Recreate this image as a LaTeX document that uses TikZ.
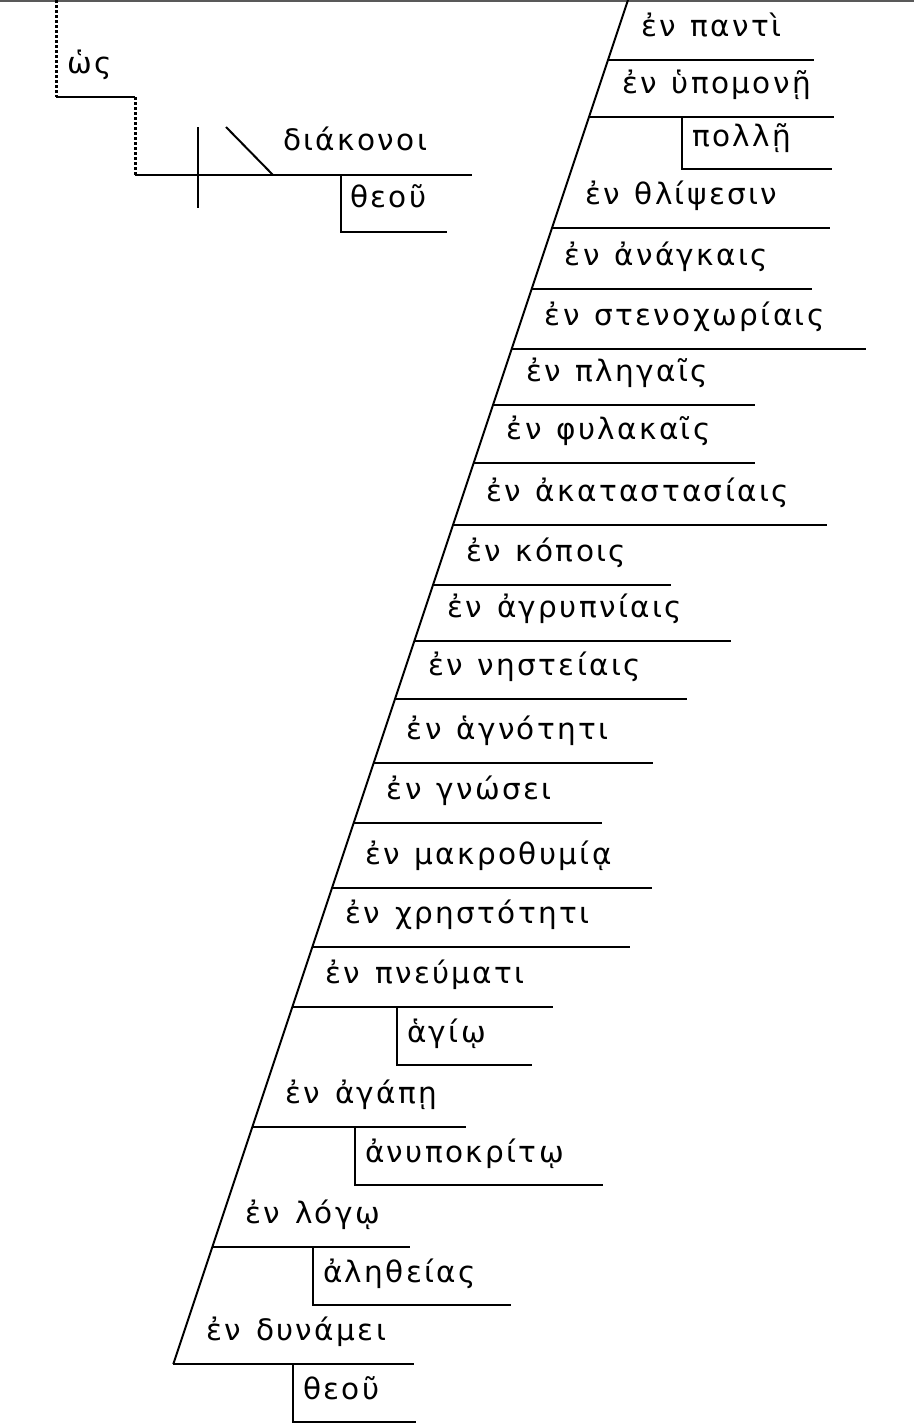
\documentclass[tikz,border=0pt]{standalone}
\usepackage{fontspec}
\setmainfont{DejaVu Sans}[LetterSpace=8]
\newcommand\grsp{\hspace{0.5em}}
\tikzset{
  ln/.style={line width=2pt},
  dotln/.style={line width=3pt, dash pattern=on 2.5pt off 2.5pt},
  lbl/.style={anchor=base west, inner sep=0pt, font=\fontsize{29.5}{33}\selectfont},
}
\begin{document}
\begin{tikzpicture}[x=1pt,y=-1pt]
\useasboundingbox (0,0) rectangle (914,1424);
\draw[gray!70!black, line width=1.5pt] (0,0.75) -- (914,0.75);
% main slant
\coordinate (stop) at (628,0);
\coordinate (sbot) at (173.3,1364);
\draw[ln] (stop) -- (sbot);
\foreach \y/\e/\t [count=\i] in {
  60/814/{ἐν\grsp παντὶ},
  117/834/{ἐν\grsp ὑπομονῇ},
  228/830/{ἐν\grsp θλίψεσιν},
  289/812/{ἐν\grsp ἀνάγκαις},
  349/866/{ἐν\grsp στενοχωρίαις},
  405/755/{ἐν\grsp πληγαῖς},
  463/755/{ἐν\grsp φυλακαῖς},
  525/827/{ἐν\grsp ἀκαταστασίαις},
  585/671/{ἐν\grsp κόποις},
  641/731/{ἐν\grsp ἀγρυπνίαις},
  699/687/{ἐν\grsp νηστείαις},
  763/653/{ἐν\grsp ἁγνότητι},
  823/602/{ἐν\grsp γνώσει},
  888/652/{ἐν\grsp μακροθυμίᾳ},
  947/630/{ἐν\grsp χρηστότητι},
  1007/553/{ἐν\grsp πνεύματι},
  1127/466/{ἐν\grsp ἀγάπῃ},
  1247/410/{ἐν\grsp λόγῳ},
  1364/414/{ἐν\grsp δυνάμει}} {
  \pgfmathsetmacro\sx{628-\y/3}
  \coordinate (a\i) at (\sx,\y);
  \coordinate (b\i) at (\e,\y);
  \draw[ln] (a\i) -- (b\i);
  \node[lbl] (t\i) at (\sx+33,\y-24) {\t};
}
% modifiers
\foreach \vx/\ty/\by/\e/\t [count=\j] in {
  682/117/169/832/{πολλῇ},
  397/1007/1065/532/{ἁγίῳ},
  355/1127/1185/603/{ἀνυποκρίτῳ},
  313/1247/1305/511/{ἀληθείας},
  293/1364/1422/416/{θεοῦ}} {
  \coordinate (m\j top) at (\vx,\ty);
  \coordinate (m\j bot) at (\vx,\by);
  \coordinate (m\j end) at (\e,\by);
  \draw[ln] (m\j top) -- (m\j bot) -- (m\j end);
  \node[lbl] (mt\j) at (\vx+10,\by-23) {\t};
}
% top-left fragment
\coordinate (d0) at (56,0);
\coordinate (d1) at (56,97);
\coordinate (d2) at (135,97);
\coordinate (d3) at (135,175);
\coordinate (d4) at (472,175);
\draw[dotln] (d0) -- (d1);
\draw[ln] (d1) -- (d2);
\draw[dotln] (d2) -- (d3);
\draw[ln] (d3) -- (d4);
\coordinate (v1) at (198,127);
\coordinate (v2) at (198,208);
\draw[ln] (v1) -- (v2);
\coordinate (s1) at (226,127);
\coordinate (s2) at (273,175);
\draw[ln] (s1) -- (s2);
\coordinate (g1) at (341,175);
\coordinate (g2) at (341,232);
\coordinate (g3) at (447,232);
\draw[ln] (g1) -- (g2) -- (g3);
\node[lbl] (hos) at (67,73) {ὡς};
\node[lbl] (diak) at (283,150) {διάκονοι};
\node[lbl] (theou) at (350,207) {θεοῦ};
\end{tikzpicture}
\end{document}
